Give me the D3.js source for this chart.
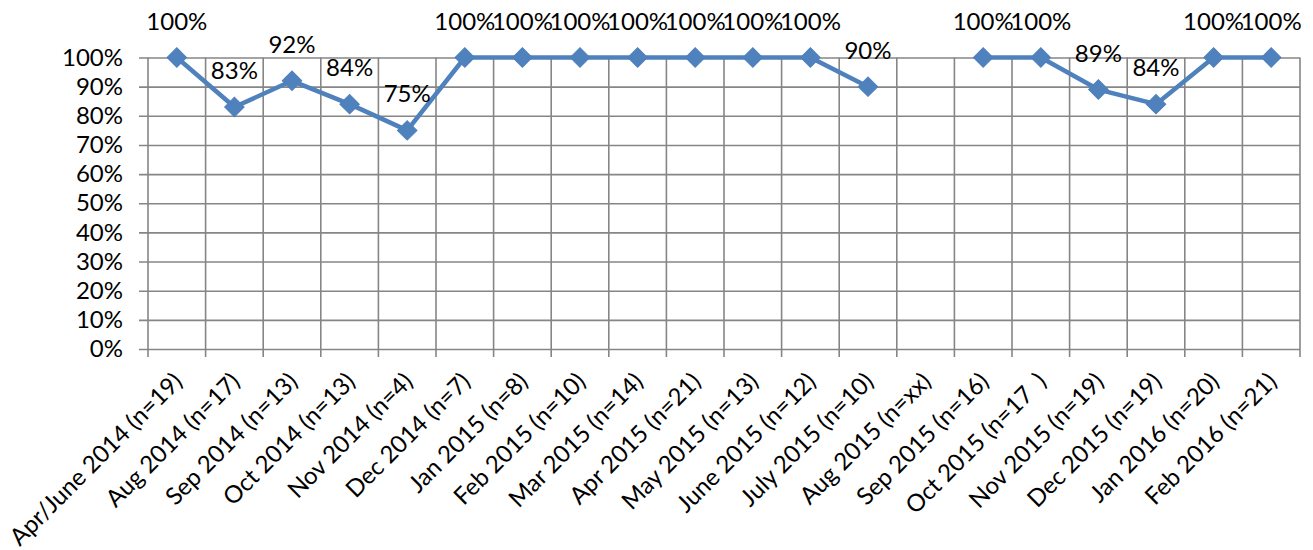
<!DOCTYPE html>
<html><head><meta charset="utf-8">
<script src="https://cdn.jsdelivr.net/npm/d3@7"></script>
<style>
html,body{margin:0;padding:0;background:#fff;}
svg{display:block;font-family:Lato, "Open Sans", sans-serif;}
</style></head>
<body><svg id="c" width="1313" height="550"></svg>
<script>
const categories = ["Apr/June 2014 (n=19)","Aug 2014 (n=17)","Sep 2014 (n=13)","Oct 2014 (n=13)","Nov 2014 (n=4)","Dec 2014 (n=7)","Jan 2015 (n=8)","Feb 2015 (n=10)","Mar 2015 (n=14)","Apr 2015 (n=21)","May 2015 (n=13)","June 2015 (n=12)","July 2015 (n=10)","Aug 2015 (n=xx)","Sep 2015 (n=16)","Oct 2015 (n=17  )","Nov 2015 (n=19)","Dec 2015 (n=19)","Jan 2016 (n=20)","Feb 2016 (n=21)"];
const values = [1.00,0.83,0.92,0.84,0.75,1.00,1.00,1.00,1.00,1.00,1.00,1.00,0.90,null,1.00,1.00,0.89,0.84,1.00,1.00];
const yTicks = [0,0.1,0.2,0.3,0.4,0.5,0.6,0.7,0.8,0.9,1.0];

const svg = d3.select("#c");
const mLeft = 148, mRight = 1300, mTop = 57.5, mBottom = 349;
const x = d3.scaleBand().domain(categories).range([mLeft, mRight]);
const y = d3.scaleLinear().domain([0, 1]).range([mBottom, mTop]);
const grid = "#868686";
const pct = d3.format(".0%");
const FS = 24;

// horizontal gridlines + y axis
const yAxis = d3.axisLeft(y).tickValues(yTicks).tickFormat(pct).tickSize(-(mRight - mLeft)).tickPadding(25);
const gy = svg.append("g").attr("transform", `translate(${mLeft},0)`).call(yAxis);
gy.select(".domain").remove();
gy.selectAll(".tick line").attr("stroke", grid).attr("stroke-width", 1.6).attr("x1", -9).attr("x2", mRight - mLeft);
gy.selectAll(".tick text").attr("font-size", FS).attr("fill", "#000").attr("font-family", "Lato");

// vertical gridlines at band boundaries
const bounds = categories.map(c => x(c)).concat([mRight]);
svg.append("g").selectAll("line").data(bounds).join("line")
  .attr("x1", d => d).attr("x2", d => d).attr("y1", mTop).attr("y2", mBottom + 8)
  .attr("stroke", grid).attr("stroke-width", 1.6);

// x axis labels
const xAxis = d3.axisBottom(x).tickSize(0).tickPadding(0);
const gx = svg.append("g").attr("transform", `translate(0,${mBottom})`).call(xAxis);
gx.select(".domain").remove();
gx.selectAll(".tick line").remove();
gx.selectAll(".tick text")
  .attr("font-size", FS).attr("fill", "#000").attr("font-family", "Lato")
  .attr("text-anchor", "end")
  .attr("dy", 0)
  .style("white-space", "pre")
  .attr("transform", "translate(7,34) rotate(-45)");

// line
const cx = d => x(d.c) + x.bandwidth() / 2;
const data = categories.map((c, i) => ({c, v: values[i]}));
const line = d3.line().defined(d => d.v !== null).x(cx).y(d => y(d.v));
svg.append("path").datum(data).attr("d", line)
  .attr("fill", "none").attr("stroke", "#4F81BD").attr("stroke-width", 4.5).attr("stroke-linejoin", "round");

// markers
const diamond = d3.symbol().type(d3.symbolSquare).size(190);
const pts = data.filter(d => d.v !== null);
svg.append("g").selectAll("path").data(pts).join("path")
  .attr("d", diamond)
  .attr("transform", d => `translate(${cx(d)},${y(d.v)}) rotate(45)`)
  .attr("fill", "#4F81BD").attr("stroke", "#4F81BD").attr("stroke-width", 1);

// data labels
svg.append("g").selectAll("text").data(pts).join("text")
  .attr("x", cx).attr("y", d => y(d.v) - 28)
  .attr("text-anchor", "middle").attr("font-size", FS).attr("font-family", "Lato").attr("fill", "#000")
  .text(d => pct(d.v));
</script></body></html>
